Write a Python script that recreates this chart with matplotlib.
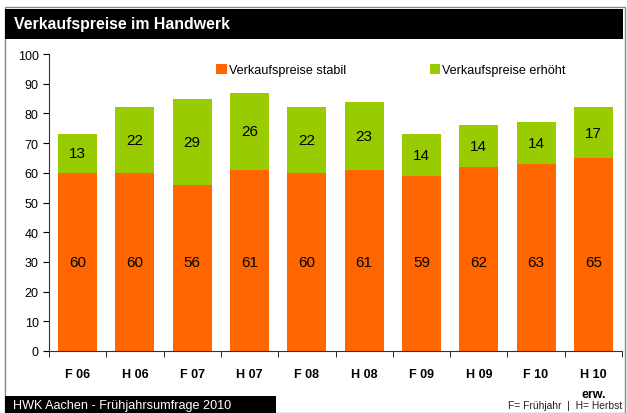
import matplotlib
matplotlib.use("Agg")
import matplotlib.pyplot as plt
import matplotlib.patches as patches
import numpy as np

plt.rcParams['font.family'] = ['Liberation Sans', 'DejaVu Sans']

categories = ["F 06", "H 06", "F 07", "H 07", "F 08", "H 08", "F 09", "H 09", "F 10", "H 10\nerw."]
stabil = [60, 60, 56, 61, 60, 61, 59, 62, 63, 65]
erhoeht = [13, 22, 29, 26, 22, 23, 14, 14, 14, 17]
yticks = list(range(0, 101, 10))

orange = "#FF6600"
green = "#99CC00"

fig = plt.figure(figsize=(6.27, 4.14), dpi=100)
W, H = 627, 414

# outer frame and title bar
fig.add_artist(patches.Rectangle((5 / W, 0), 620 / W, 1 - 8 / H, transform=fig.transFigure,
                                 facecolor="none", edgecolor="#888888", linewidth=1))
fig.add_artist(patches.Rectangle((5 / W, 1 - 40 / H), 618 / W, 30 / H, transform=fig.transFigure,
                                 facecolor="black", edgecolor="none"))
fig.text(14 / W, 1 - 25 / H, "Verkaufspreise im Handwerk", color="white", fontsize=11.4,
         fontweight="bold", va="center", ha="left")

# bottom-left source box
fig.add_artist(patches.Rectangle((5 / W, 0), 271 / W, 17 / H, transform=fig.transFigure,
                                 facecolor="black", edgecolor="none"))
fig.text(13 / W, 8 / H, "HWK Aachen - Frühjahrsumfrage 2010", color="white", fontsize=9.1,
         va="center", ha="left")
fig.text(622 / W, 8 / H, "F= Frühjahr  |  H= Herbst", color="#222222", fontsize=7.4,
         va="center", ha="right")

ax = fig.add_axes([49 / W, 1 - 352 / H, 573 / W, 297 / H])
ax.patch.set_alpha(0)
x = np.arange(len(categories))
b1 = ax.bar(x, stabil, width=0.68, color=orange, label="Verkaufspreise stabil")
b2 = ax.bar(x, erhoeht, width=0.68, bottom=stabil, color=green, label="Verkaufspreise erhöht")

for i in range(len(categories)):
    ax.text(x[i], 30, str(stabil[i]), ha="center", va="center", fontsize=11)
    ax.text(x[i], stabil[i] + erhoeht[i] / 2, str(erhoeht[i]), ha="center", va="center", fontsize=11)

ax.set_xlim(-0.5, len(categories) - 0.5)
ax.set_ylim(0, 100)
ax.set_yticks(yticks)
ax.tick_params(axis="y", labelsize=9, length=4, direction="out")
ax.set_xticks(x)
ax.set_xticklabels(categories, fontsize=9, fontweight="bold", linespacing=1.9)
ax.tick_params(axis="x", length=0, pad=12)
ax.set_xticks(np.arange(-0.5, len(categories), 1), minor=True)
ax.tick_params(axis="x", which="minor", length=4, direction="out")
for s in ["top", "right"]:
    ax.spines[s].set_visible(False)
ax.spines["left"].set_color("#333333")
ax.spines["bottom"].set_color("#333333")

ax.legend(handles=[b1, b2], ncol=2, frameon=False, loc="center", bbox_to_anchor=(0.597, 0.945),
          fontsize=9.1, handlelength=0.8, handleheight=0.8, handletextpad=0.2, columnspacing=6.6)

fig.savefig("out.png", dpi=100)
